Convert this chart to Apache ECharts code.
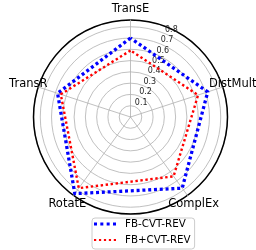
<!DOCTYPE html>
<html><head><meta charset="utf-8">
<script src="https://cdn.jsdelivr.net/npm/echarts@6/dist/echarts.min.js"></script>
<style>html,body{margin:0;padding:0;background:#fff}#c{width:256px;height:250px}</style>
</head><body><div id="c"></div>
<script>
// Indicators in drawing order (counter-clockwise from top)
var categories = ['TransE', 'TransR', 'RotatE', 'ComplEx', 'DistMult'];
var seriesNames = ['FB-CVT-REV', 'FB+CVT-REV'];
var blueValues = [0.70, 0.68, 0.84, 0.78, 0.72];
var redValues  = [0.59, 0.65, 0.78, 0.65, 0.63];
var tickLabels = ['0.1','0.2','0.3','0.4','0.5','0.6','0.7','0.8'];
var rMax = 0.86;

var FONT = '"DejaVu Sans", sans-serif';
var C = [130.5, 117];
var R = 97;

var chart = echarts.init(document.getElementById('c'), null, {renderer:'canvas'});
chart.setOption({
  animation: false,
  backgroundColor: '#fff',
  polar: {center: C, radius: R},
  angleAxis: {
    type: 'value', min: 0, max: 360, startAngle: 67.5,
    axisLine: {show: true, lineStyle: {color: '#000', width: 1.5}},
    axisTick: {show: false}, axisLabel: {show: false}, splitLine: {show: false}
  },
  radiusAxis: {
    type: 'value', min: 0, max: rMax, interval: 0.1,
    axisLine: {show: false}, axisTick: {show: false},
    splitLine: {show: true, lineStyle: {color: '#b0b0b0', width: 0.8}},
    axisLabel: {
      show: true, margin: 0, align: 'left', verticalAlign: 'bottom',
      fontSize: 8, fontFamily: FONT, color: '#262626',
      showMinLabel: false, showMaxLabel: false,
      formatter: function (v) {
        var s = v.toFixed(1);
        return tickLabels.indexOf(s) >= 0 ? s : '';
      }
    }
  },
  radar: {
    center: C, radius: R, startAngle: 90, shape: 'circle', splitNumber: 1,
    indicator: categories.map(function (n) { return {name: n, max: rMax, min: 0}; }),
    nameGap: 10.5,
    axisName: {color: '#000', fontSize: 11.5, fontFamily: FONT, align: 'center', verticalAlign: 'middle'},
    axisLine: {lineStyle: {color: '#b0b0b0', width: 0.8}},
    splitLine: {show: false}, splitArea: {show: false},
    axisTick: {show: false}, axisLabel: {show: false}
  },
  legend: {
    orient: 'vertical', left: 92, top: 218,
    itemWidth: 22, itemHeight: 3, itemGap: 6,
    padding: [1, 4, 4, 2],
    borderColor: '#cccccc', borderWidth: 1, borderRadius: 3,
    backgroundColor: '#fff',
    textStyle: {fontSize: 10.3, fontFamily: FONT, color: '#000', padding: [0, 0, 0, 4]},
    data: [
      {name: seriesNames[0], icon: 'path://M0,0h3v3h-3zM6.33,0h3v3h-3zM12.67,0h3v3h-3zM19,0h3v3h-3z', itemStyle: {color: '#0000ff'}},
      {name: seriesNames[1], icon: 'path://M0,0h2.2v2.2h-2.2zM4.95,0h2.2v2.2h-2.2zM9.9,0h2.2v2.2h-2.2zM14.85,0h2.2v2.2h-2.2zM19.8,0h2.2v2.2h-2.2z', itemStyle: {color: '#ff0000'}}
    ]
  },
  series: [{
    type: 'radar',
    symbol: 'none',
    data: [
      {name: seriesNames[0], value: blueValues,
       itemStyle: {color: '#0000ff'},
       lineStyle: {color: '#0000ff', width: 3.3, type: [3, 2.8]}},
      {name: seriesNames[1], value: redValues,
       itemStyle: {color: '#ff0000'},
       lineStyle: {color: '#ff0000', width: 2.4, type: [2.4, 2.6]}}
    ]
  }]
});
</script></body></html>
